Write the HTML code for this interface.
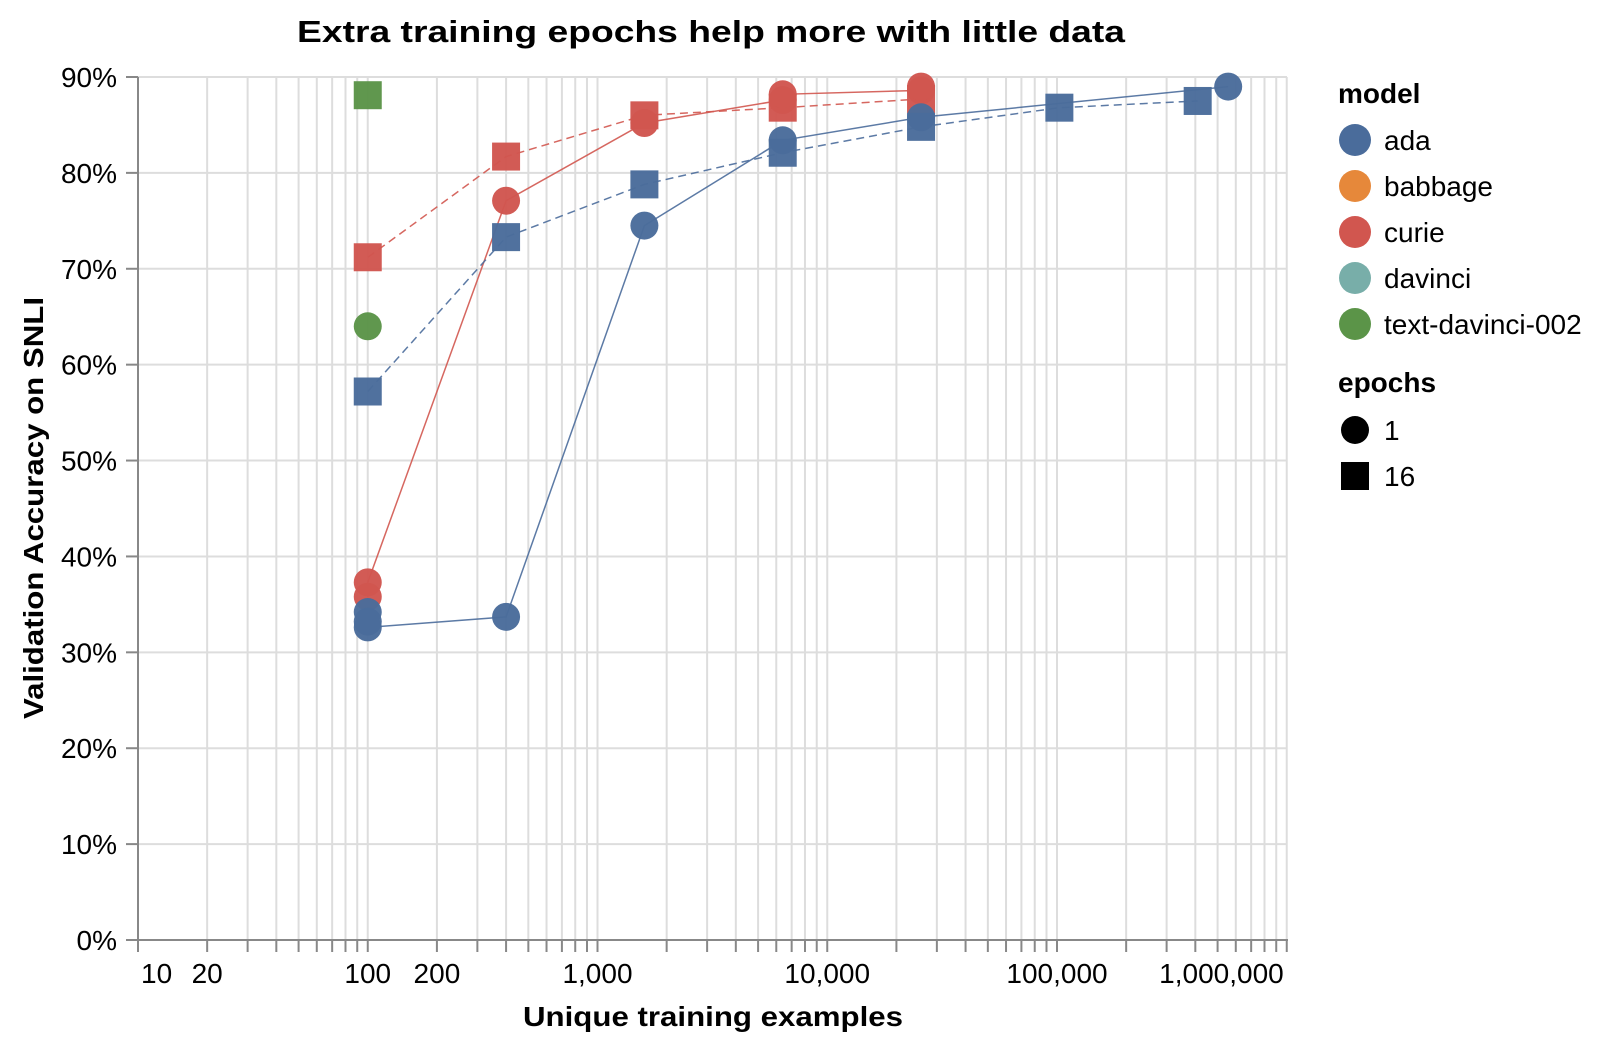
<!DOCTYPE html>
<html><head><meta charset="utf-8"><style>
html,body{margin:0;padding:0;background:#fff;}
svg{display:block;font-family:"Liberation Sans",Arial,sans-serif;}
</style></head><body>
<svg id="chart" width="1600" height="1043" viewBox="0 0 1600 1043">
<text x="711" y="42" text-anchor="middle" font-size="31" font-weight="bold" textLength="828" lengthAdjust="spacingAndGlyphs">Extra training epochs help more with little data</text>
<g id="grid"></g>
<g id="axes"></g>
<g id="lines"></g>
<g id="points"></g>
<text x="713" y="1026" text-anchor="middle" font-size="28" font-weight="bold" textLength="380" lengthAdjust="spacingAndGlyphs">Unique training examples</text>
<text transform="translate(43,508) rotate(-90)" text-anchor="middle" font-size="28" font-weight="bold" textLength="422" lengthAdjust="spacingAndGlyphs">Validation Accuracy on SNLI</text>
<g id="legend">
<text x="1338" y="103" font-size="28" font-weight="bold">model</text>
<text x="1338" y="392" font-size="28" font-weight="bold">epochs</text>
</g>
</svg>
<script>
const NS='http://www.w3.org/2000/svg';
const xTickVals=[10,20,100,200,1000,10000,100000,1000000];
const xTickLabels=['10','20','100','200','1,000','10,000','100,000','1,000,000'];
const yTickVals=[0,10,20,30,40,50,60,70,80,90];
const modelNames=['ada','babbage','curie','davinci','text-davinci-002'];
const modelColors=['#4a6c9b','#e6883a','#d1564f','#78aea9','#5b9448'];
const epochLabels=['1','16'];
const ada1X=[100,100,100,400,1600,6400,25600,556000];
const ada1Y=[34.2,33.2,32.6,33.7,74.5,83.4,85.8,89.0];
const ada16X=[100,400,1600,6400,25600,102400,409600];
const ada16Y=[57.2,73.3,78.8,82.1,84.8,86.8,87.5];
const curie1X=[100,100,400,1600,6400,6400,25600,25600];
const curie1Y=[35.8,37.3,77.1,85.2,87.6,88.2,88.6,89.0];
const curie16X=[100,400,1600,6400,25600];
const curie16Y=[71.2,81.7,86.0,86.8,87.7];
const td1X=[100];
const td1Y=[64.0];
const td16X=[100];
const td16Y=[88.1];

const X0=138, DEC=229.75, Y0=940, YS=9.589, XR=1287;
function xs(v){return X0+Math.log10(v/10)*DEC;}
function ys(v){return Y0-v*YS;}
function mk(tag,attrs,parent){const e=document.createElementNS(NS,tag);for(const k in attrs)e.setAttribute(k,attrs[k]);parent.appendChild(e);return e;}
const grid=document.getElementById('grid'),axes=document.getElementById('axes'),lines=document.getElementById('lines'),pts=document.getElementById('points'),leg=document.getElementById('legend');
for(let d=10;d<1e6;d*=10){for(let m=1;m<10;m++){const v=d*m;const x=xs(v);
 const g=mk('line',{x1:x,x2:x,y1:77,y2:Y0,stroke:'#ddd','stroke-width':2},grid);
 
 
 const t=mk('line',{x1:x,x2:x,y1:Y0,y2:Y0+12,stroke:'#888','stroke-width':2},axes);
 
 }}
{const x=xs(1e6);const g=mk('line',{x1:x,x2:x,y1:77,y2:Y0,stroke:'#ddd','stroke-width':2},grid);
 
 
 const t=mk('line',{x1:x,x2:x,y1:Y0,y2:Y0+12,stroke:'#888','stroke-width':2},axes);
 
 }
yTickVals.forEach(v=>{const y=ys(v);
 const g=mk('line',{x1:X0,x2:XR,y1:y,y2:y,stroke:'#ddd','stroke-width':2},grid);
 
 
 const t=mk('line',{x1:X0-12,x2:X0,y1:y,y2:y,stroke:'#888','stroke-width':2},axes);
 
 
 const l=mk('text',{x:117,y:y+10,'text-anchor':'end','font-size':28,fill:'#000'},axes);l.textContent=v+'%';
 
 });
const xa=mk('line',{x1:X0-4,x2:XR+1,y1:Y0,y2:Y0,stroke:'#888','stroke-width':2},axes);


const ya=mk('line',{x1:X0,x2:X0,y1:77,y2:Y0,stroke:'#888','stroke-width':2},axes);


xTickVals.forEach((v,i)=>{const x=xs(v);let anchor='middle';if(i===0)anchor='start';if(i===xTickVals.length-1)anchor='end';
 const l=mk('text',{x:i===0?x+3:(i===xTickVals.length-1?x-3:x),y:983,'text-anchor':anchor,'font-size':28},axes);l.textContent=xTickLabels[i];
 
 });
function line(X,Y,color,dash,name){const d=X.map((v,i)=>(i?'L':'M')+xs(v).toFixed(1)+','+ys(Y[i]).toFixed(1)).join('');
 const p=mk('path',{d:d,fill:'none',stroke:color,'stroke-width':1.5,'stroke-dasharray':dash||'none','stroke-opacity':0.9},lines);
 
 }
function points(X,Y,color,shape,name){X.forEach((v,i)=>{const x=xs(v),y=ys(Y[i]);let e;
 if(shape==='circle')e=mk('circle',{cx:x,cy:y,r:14,fill:color,'fill-opacity':0.97},pts);
 else e=mk('rect',{x:x-14,y:y-14,width:28,height:28,fill:color,'fill-opacity':0.97},pts);
 
 });}
line(curie1X,curie1Y,modelColors[2],null,'curie-1-epoch-line');
line(curie16X,curie16Y,modelColors[2],'8,5','curie-16-epoch-line');
line(ada1X,ada1Y,modelColors[0],null,'ada-1-epoch-line');
line(ada16X,ada16Y,modelColors[0],'8,5','ada-16-epoch-line');
points(curie16X,curie16Y,modelColors[2],'square','curie-16-epoch-point');
points(curie1X,curie1Y,modelColors[2],'circle','curie-1-epoch-point');
points(ada16X,ada16Y,modelColors[0],'square','ada-16-epoch-point');
points(ada1X,ada1Y,modelColors[0],'circle','ada-1-epoch-point');
points(td1X,td1Y,modelColors[4],'circle','text-davinci-002-1-epoch-point');
points(td16X,td16Y,modelColors[4],'square','text-davinci-002-16-epoch-point');
modelNames.forEach((n,i)=>{const y=140+i*46;
 const c=mk('circle',{cx:1355,cy:y,r:16,fill:modelColors[i]},leg);
 
 
 const t=mk('text',{x:1384,y:y+10,'font-size':28},leg);t.textContent=n;
 
 });
epochLabels.forEach((n,i)=>{const y=430+i*46;let s;
 if(i===0)s=mk('circle',{cx:1355,cy:y,r:14,fill:'#000'},leg);
 else s=mk('rect',{x:1341,y:y-14,width:28,height:28,fill:'#000'},leg);
 
 
 const t=mk('text',{x:1384,y:y+10,'font-size':28},leg);t.textContent=n;
 
 });
</script>
</body></html>
